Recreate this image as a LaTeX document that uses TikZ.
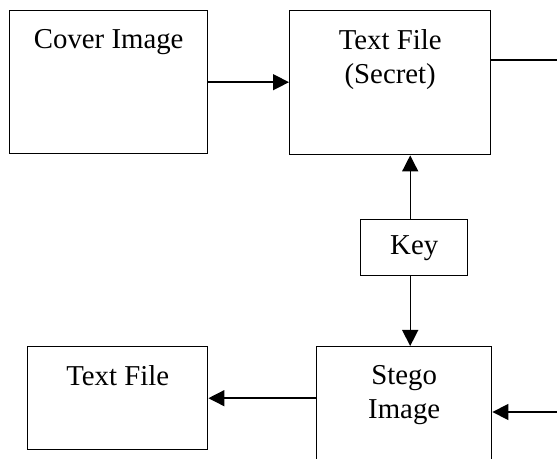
\documentclass[tikz,border=0pt]{standalone}
\usepackage{fontspec}
\setmainfont{Liberation Serif}
\usetikzlibrary{arrows.meta, calc}

\begin{document}
\begin{tikzpicture}[x=0.5pt, y=-0.5pt,
    blockbox/.style={draw, line width=0.7pt, rectangle, inner sep=0pt, anchor=north west,
      font=\fontsize{14.4}{17.2}\selectfont},
    boxtext/.style={anchor=north, inner sep=0pt, yshift=-9.5pt, align=center,
      font=\fontsize{14.4}{17.2}\selectfont},
    flow/.style={line width=0.7pt, -{Triangle[length=8pt, width=8pt]}}]
  % Frame
  \useasboundingbox (0,0) rectangle (557,459);
  \clip (0,0) rectangle (557,459);
  % Blocks
  \node[blockbox, minimum width=99pt, minimum height=71.5pt,
        label={[boxtext]north:Cover Image}] (cover) at (9,10) {};
  \node[blockbox, minimum width=100.5pt, minimum height=72pt,
        label={[boxtext]north:Text File\\(Secret)}] (secret) at (289,10) {};
  \node[blockbox, minimum width=53.5pt, minimum height=28pt] (key) at (360,219) {Key};
  \node[blockbox, minimum width=87.5pt, minimum height=75pt,
        label={[boxtext]north:Stego\\Image}] (stego) at (316,346) {};
  \node[blockbox, minimum width=90pt, minimum height=51.5pt,
        label={[boxtext]north:Text File}] (plain) at (27,346) {};
  % Loose ends at the right border
  \coordinate (outR) at (560,60);
  \coordinate (inR) at (560,412);
  % Connectors
  \draw[flow] (cover.east) -- (cover.east -| secret.west);
  \draw[line width=0.7pt] (outR -| secret.east) -- (outR);
  \draw[flow] ([xshift=-2pt]key.north) -- ([xshift=-2pt]key.north |- secret.south);
  \draw[flow] ([xshift=-2pt]key.south) -- ([xshift=-2pt]key.south |- stego.north);
  \draw[flow] (stego.west |- plain.east) -- (plain.east);
  \draw[flow] (inR) -- (inR -| stego.east);
\end{tikzpicture}
\end{document}
